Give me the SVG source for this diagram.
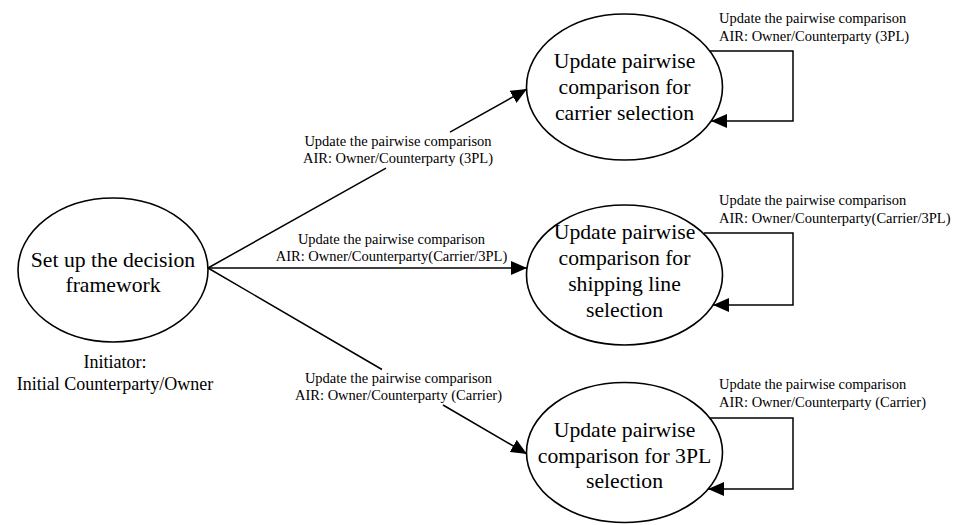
<svg xmlns="http://www.w3.org/2000/svg" width="960" height="525" viewBox="0 0 960 525">
  <style>
    .node ellipse { fill: #ffffff; stroke: #000000; stroke-width: 1.6; }
    .ntext { font-family: "Liberation Serif", "Times New Roman", serif; font-size: 21.7px; fill: #000000; text-anchor: middle; }
    .note { font-family: "Liberation Serif", "Times New Roman", serif; font-size: 18px; fill: #000000; text-anchor: middle; }
    .elabel { font-family: "Liberation Serif", "Times New Roman", serif; font-size: 14.5px; fill: #000000; }
    .mid { text-anchor: middle; }
    .conn { fill: none; stroke: #000000; stroke-width: 1.5; marker-end: url(#arrow); }
  </style>
  <defs>
    <marker id="arrow" markerUnits="userSpaceOnUse" markerWidth="17" markerHeight="14" refX="16" refY="7" orient="auto">
      <path d="M0,0 L16,7 L0,14 Z" fill="#000000"/>
    </marker>
  </defs>
  <rect width="960" height="525" fill="#ffffff"/>

  <g id="connectors">
    <path class="conn" d="M208,268 L386,168.1 M450,132.2 L527,89"/>
    <path class="conn" d="M208,268 L527,268"/>
    <path class="conn" d="M208,268 L382,369.5 M443,405 L527,454"/>
    <path class="conn" d="M709,51 H793 V121 H711"/>
    <path class="conn" d="M704,233 H793 V305 H713"/>
    <path class="conn" d="M709,418 H793 V489 H708"/>
  </g>

  <g id="edge-labels">
    <text class="elabel mid" x="398" y="146">Update the pairwise comparison</text>
    <text class="elabel mid" x="398" y="163">AIR: Owner/Counterparty (3PL)</text>
    <text class="elabel mid" x="391.5" y="244">Update the pairwise comparison</text>
    <text class="elabel mid" x="391.5" y="261">AIR: Owner/Counterparty(Carrier/3PL)</text>
    <text class="elabel mid" x="398.5" y="383">Update the pairwise comparison</text>
    <text class="elabel mid" x="398.5" y="400">AIR: Owner/Counterparty (Carrier)</text>
    <text class="elabel" x="719" y="23">Update the pairwise comparison</text>
    <text class="elabel" x="719" y="41">AIR: Owner/Counterparty (3PL)</text>
    <text class="elabel" x="719" y="205">Update the pairwise comparison</text>
    <text class="elabel" x="719" y="223">AIR: Owner/Counterparty(Carrier/3PL)</text>
    <text class="elabel" x="719" y="389">Update the pairwise comparison</text>
    <text class="elabel" x="719" y="407">AIR: Owner/Counterparty (Carrier)</text>
  </g>

  <g id="node-setup" class="node">
    <ellipse cx="113" cy="270" rx="95" ry="72"/>
    <text class="ntext" x="113" y="267">Set up the decision</text>
    <text class="ntext" x="113" y="292">framework</text>
    <text class="note" x="115" y="368">Initiator:</text>
    <text class="note" x="115" y="390">Initial Counterparty/Owner</text>
  </g>

  <g id="node-carrier" class="node">
    <ellipse cx="624.5" cy="87" rx="98" ry="73"/>
    <text class="ntext" x="624.5" y="68">Update pairwise</text>
    <text class="ntext" x="624.5" y="94">comparison for</text>
    <text class="ntext" x="624.5" y="120">carrier selection</text>
  </g>

  <g id="node-shipping" class="node">
    <ellipse cx="624.5" cy="275" rx="98" ry="70"/>
    <text class="ntext" x="624.5" y="239">Update pairwise</text>
    <text class="ntext" x="624.5" y="265">comparison for</text>
    <text class="ntext" x="624.5" y="291">shipping line</text>
    <text class="ntext" x="624.5" y="317">selection</text>
  </g>

  <g id="node-3pl" class="node">
    <ellipse cx="624.5" cy="452.5" rx="98" ry="70"/>
    <text class="ntext" x="624.5" y="437">Update pairwise</text>
    <text class="ntext" x="624.5" y="463">comparison for 3PL</text>
    <text class="ntext" x="624.5" y="488">selection</text>
  </g>
</svg>
